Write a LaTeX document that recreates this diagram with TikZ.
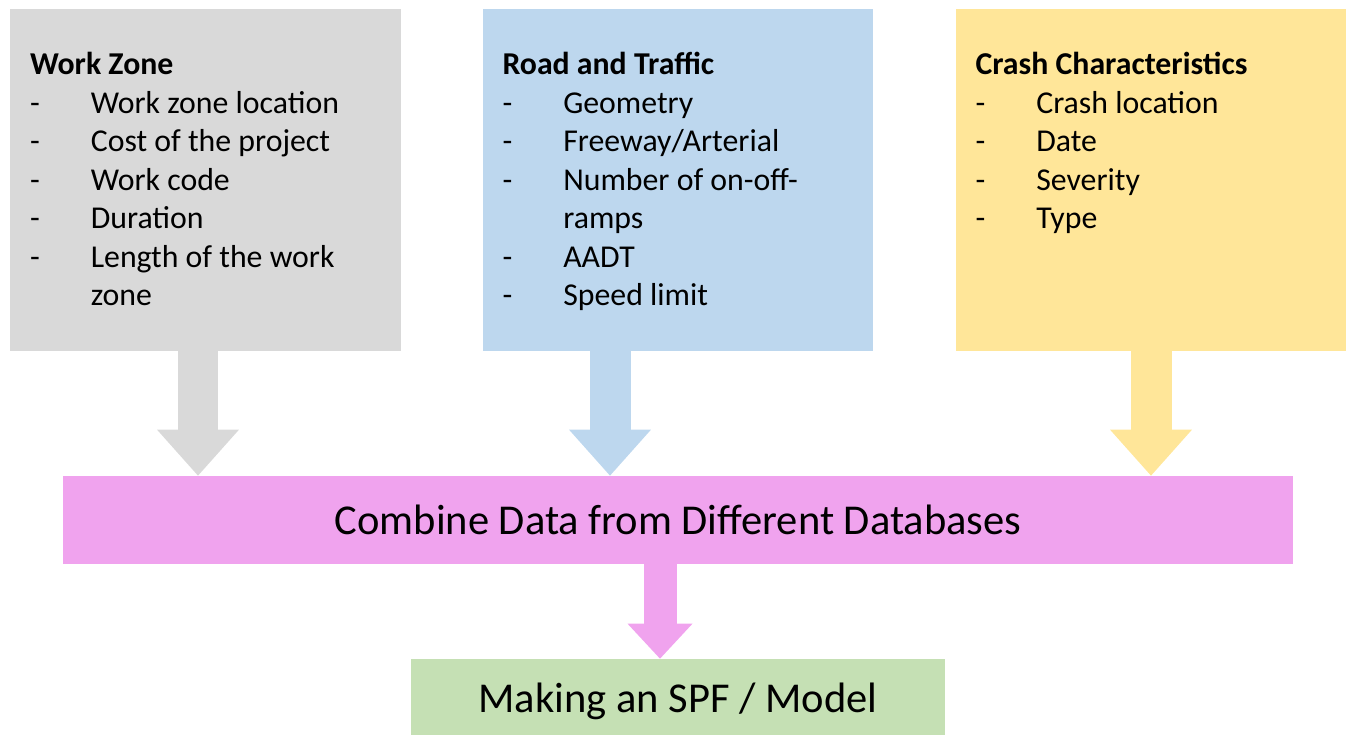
\documentclass[tikz,border=0pt]{standalone}
\usepackage{fontspec}
\setmainfont{Carlito}
\usetikzlibrary{arrows.meta}
\definecolor{zonegray}{HTML}{D9D9D9}
\definecolor{roadblue}{HTML}{BDD7EE}
\definecolor{crashyellow}{HTML}{FFE699}
\definecolor{combpink}{HTML}{F0A3EE}
\definecolor{modelgreen}{HTML}{C5E0B4}

\begin{document}
\begin{tikzpicture}[x=0.02cm, y=-0.02cm,
    box/.style={fill=#1, inner sep=0pt, minimum width=7.82cm, minimum height=6.84cm},
    list/.style={anchor=north west, inner sep=0pt, font=\fontsize{18.1}{21.9}\selectfont},
    feed/.style={line width=0.82cm, draw=#1, -{Triangle[length=0.92cm,width=1.64cm,line width=0pt]}},
    feedsmall/.style={line width=0.66cm, draw=#1, -{Triangle[length=0.7cm,width=1.3cm,line width=0pt]}}]

    \useasboundingbox (0,0) rectangle (1349,734);

    \node[box=zonegray] (wz) at (205.5,180) {};
    \node[box=roadblue] (rt) at (678,180) {};
    \node[box=crashyellow] (cc) at (1151,180) {};

    \node[list] (wzlist) at ([shift={(20,39)}]wz.north west) {\begin{tabular}{@{}p{34.6pt}@{}l@{}}
        \multicolumn{2}{@{}l@{}}{\textbf{Work Zone}}\\
        - & Work zone location\\
        - & Cost of the project\\
        - & Work code\\
        - & Duration\\
        - & Length of the work\\
          & zone
    \end{tabular}};
    \node[list] (rtlist) at ([shift={(20,39)}]rt.north west) {\begin{tabular}{@{}p{34.6pt}@{}l@{}}
        \multicolumn{2}{@{}l@{}}{\textbf{Road and Traffic}}\\
        - & Geometry\\
        - & Freeway/Arterial\\
        - & Number of on-off-\\
          & ramps\\
        - & AADT\\
        - & Speed limit
    \end{tabular}};
    \node[list] (cclist) at ([shift={(20,39)}]cc.north west) {\begin{tabular}{@{}p{34.6pt}@{}l@{}}
        \multicolumn{2}{@{}l@{}}{\textbf{Crash Characteristics}}\\
        - & Crash location\\
        - & Date\\
        - & Severity\\
        - & Type
    \end{tabular}};

    \node[fill=combpink, inner sep=0pt, minimum width=24.6cm, minimum height=1.76cm,
          font=\fontsize{24.2}{30}\selectfont] (comb) at (678,520) {Combine Data from Different Databases};
    \node[fill=modelgreen, inner sep=0pt, minimum width=10.68cm, minimum height=1.7cm,
          font=\fontsize{24.2}{30}\selectfont] (spf) at (678,701.5) {Making an SPF / Model};

    \coordinate (gx) at (198,0);
    \coordinate (bx) at (610,0);
    \coordinate (yx) at (1151,0);
    \coordinate (px) at (660,0);

    \draw[feed=zonegray] (wz.south -| gx) -- (comb.north -| gx);
    \draw[feed=roadblue] (rt.south -| bx) -- (comb.north -| bx);
    \draw[feed=crashyellow] (cc.south -| yx) -- (comb.north -| yx);
    \draw[feedsmall=combpink] (comb.south -| px) -- (spf.north -| px);
\end{tikzpicture}
\end{document}
